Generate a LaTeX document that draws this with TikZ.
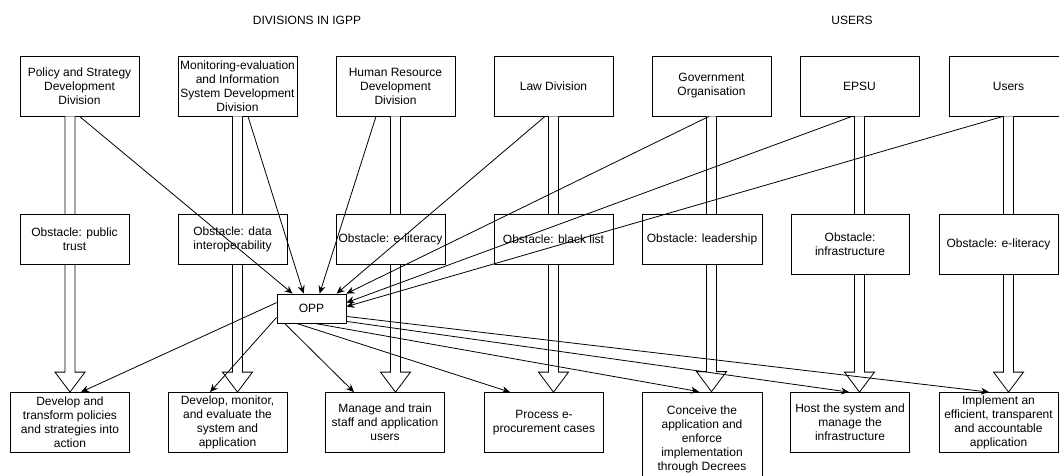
\documentclass[tikz,border=0pt]{standalone}
\usepackage{fontspec}
\setmainfont{Liberation Sans}
\usetikzlibrary{arrows.meta,calc}
\newcommand{\blockarr}[2]{%
  \draw[blockarrow] ($(#1)+(-5,0)$) -- ($(#2)+(-5,-20)$) -- ($(#2)+(-15,-20)$) -- (#2)
    -- ($(#2)+(15,-20)$) -- ($(#2)+(5,-20)$) -- ($(#1)+(5,0)$);}
\begin{document}
\begin{tikzpicture}[x=1pt,y=-1pt,
  box/.style={draw, fill=white, line width=0.8pt, inner sep=0pt, align=center,
    font=\fontsize{12}{14}\selectfont},
  topbox/.style={box, minimum width=119pt, minimum height=60pt},
  lbl/.style={font=\fontsize{12}{14}\selectfont, inner sep=0pt},
  con/.style={line width=0.8pt, -{Stealth[length=8pt,width=7pt]}},
  blockarrow/.style={draw, fill=white, line width=0.8pt, line join=miter}]
\clip (0,0) rectangle (1059,476);

% headings
\node[lbl] (h1) at (307,20) {DIVISIONS IN IGPP};
\node[lbl] (h2) at (852,20) {USERS};

% top row
\node[topbox] (t1) at (79.5,86) {Policy and Strategy\\Development\\Division};
\node[topbox] (t2) at (237.5,86) {Monitoring-evaluation\\and Information\\System Development\\Division};
\node[topbox] (t3) at (395.5,86) {Human Resource\\Development\\Division};
\node[topbox] (t4) at (553.5,86) {Law Division};
\node[topbox] (t5) at (711.5,86) {Government\\Organisation};
\node[topbox] (t6) at (859.5,86) {EPSU};
\node[topbox] (t7) at (1008.5,86) {Users};

% bottom row
\node[topbox] (b1) at (70,422.5) {Develop and\\transform policies\\and strategies into\\action};
\node[topbox] (b2) at (227.5,422.5) {Develop, monitor,\\and evaluate the\\system and\\application};
\node[topbox] (b3) at (385,422.5) {Manage and train\\staff and application\\users};
\node[topbox] (b4) at (544,422.5) {Process e-\\procurement cases};
\node[box, minimum width=120pt, minimum height=94pt] (b5) at (702,439) {Conceive the\\application and\\enforce\\implementation\\through Decrees};
\node[topbox] (b6) at (850,422.5) {Host the system and\\manage the\\infrastructure};
\node[topbox] (b7) at (998.5,422.5) {Implement an\\efficient, transparent\\and accountable\\application};

% block arrows
\coordinate (s1) at (b1.north |- t1.south);
\blockarr{s1}{b1.north}
\coordinate (e2) at (t2.south |- b2.north);
\blockarr{t2.south}{e2}
\coordinate (e3) at (t3.south |- b3.north);
\blockarr{t3.south}{e3}
\coordinate (e4) at (t4.south |- b4.north);
\blockarr{t4.south}{e4}
\coordinate (e5) at (t5.south |- b5.north);
\blockarr{t5.south}{e5}
\coordinate (e6) at (t6.south |- b6.north);
\blockarr{t6.south}{e6}
\coordinate (e7) at (t7.south |- b7.north);
\blockarr{t7.south}{e7}

% obstacles
\node[box, minimum width=109pt, minimum height=50pt] (m1) at (74.5,239) {Obstacle: public\\trust};
\node[box, minimum width=109pt, minimum height=50pt] (m2) at (232.5,239) {Obstacle: data\\interoperability};
\node[box, minimum width=109pt, minimum height=50pt] (m3) at (390.5,239) {Obstacle: e-literacy};
\node[box, minimum width=119pt, minimum height=50pt] (m4) at (553.5,239) {Obstacle: black list};
\node[box, minimum width=120pt, minimum height=50pt] (m5) at (702,239) {Obstacle: leadership};
\node[box, minimum width=118pt, minimum height=60pt] (m6) at (850,244) {Obstacle:\\infrastructure};
\node[box, minimum width=119pt, minimum height=60pt] (m7) at (998.5,244) {Obstacle: e-literacy};

% OPP
\node[box, minimum width=69pt, minimum height=29pt] (opp) at (311.5,308.5) {OPP};

% arrows into OPP
\draw[con] (t1.south) -- ($(opp.north west)+(16,0)$);
\draw[con] ($(t2.south)+(10.5,0)$) -- ($(opp.north west)+(27,0)$);
\draw[con] ($(t3.south)+(-19.5,0)$) -- ($(opp.north west)+(43,0)$);
\draw[con] ($(t4.south)+(-8.5,0)$) -- ($(opp.north west)+(60,0)$);
\draw[con] ($(t5.south)+(-2.5,0)$) -- (opp.north east);
\draw[con] ($(t6.south)+(-7.5,0)$) -- ($(opp.north east)+(0,9)$);
\draw[con] ($(t7.south)+(-5.5,0)$) -- ($(opp.north east)+(0,13)$);

% arrows out of OPP
\draw[con] ($(opp.north west)+(0,9)$) -- ($(b1.north)+(11,0)$);
\draw[con] ($(opp.south west)+(0,-6)$) -- ($(b2.north)+(-17.5,0)$);
\draw[con] ($(opp.south west)+(8,0)$) -- ($(b3.north)+(-31,0)$);
\draw[con] ($(opp.south west)+(20,0)$) -- ($(b4.north)+(-34,0)$);
\draw[con] ($(opp.south west)+(38,0)$) -- ($(b5.north)+(-3,0)$);
\draw[con] ($(opp.south east)+(0,-2)$) -- ($(b6.north)+(-1,0)$);
\draw[con] ($(opp.south east)+(0,-7)$) -- ($(b7.north)+(-9.5,0)$);
\end{tikzpicture}
\end{document}
